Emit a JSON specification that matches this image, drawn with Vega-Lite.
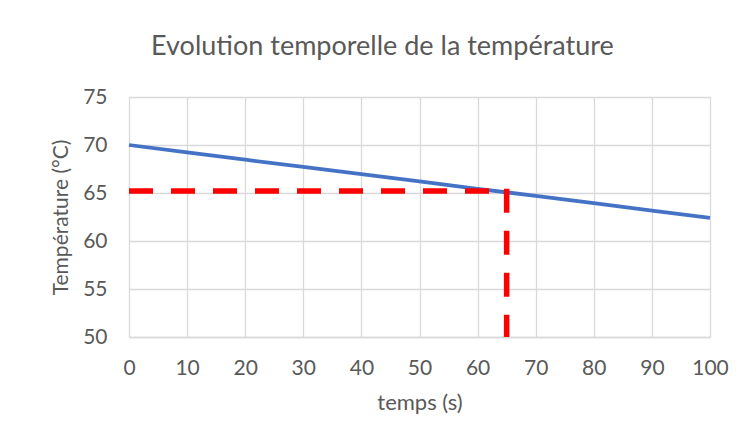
{
  "$schema": "https://vega.github.io/schema/vega-lite/v6.json",
  "width": 581,
  "height": 240,
  "autosize": {"type": "none"},
  "padding": {"left": 129, "top": 97, "right": 36, "bottom": 111},
  "background": "white",
  "config": {
    "view": {"stroke": null},
    "font": "Lato",
    "axis": {
      "labelFont": "Lato",
      "titleFont": "Lato",
      "labelColor": "#595959",
      "titleColor": "#595959",
      "labelFontSize": 21,
      "titleFontSize": 21,
      "titleFontWeight": "normal",
      "gridColor": "#d9d9d9",
      "gridWidth": 1.3,
      "tickSize": 0,
      "domainColor": "#d9d9d9",
      "domainWidth": 1.3
    }
  },
  "title": {
    "text": "Evolution temporelle de la température",
    "font": "Lato",
    "fontSize": 27,
    "fontWeight": "normal",
    "color": "#595959",
    "anchor": "middle",
    "frame": "bounds",
    "offset": 25,
    "dx": -7
  },
  "datasets": {
    "temp": [
      {"t": 0, "T": 70.0},
      {"t": 10, "T": 69.23},
      {"t": 20, "T": 68.47},
      {"t": 30, "T": 67.72},
      {"t": 40, "T": 66.96},
      {"t": 50, "T": 66.2},
      {"t": 60, "T": 65.44},
      {"t": 70, "T": 64.7},
      {"t": 80, "T": 63.95},
      {"t": 90, "T": 63.17},
      {"t": 100, "T": 62.4}
    ],
    "guides": [
      {"x": 0, "x2": 65, "y": 65.2, "y2": 65.2},
      {"x": 65, "x2": 65, "y": 65.45, "y2": 50}
    ]
  },
  "layer": [
    {
      "data": {"name": "temp"},
      "mark": {"type": "line", "color": "#4472C4", "strokeWidth": 3.75},
      "encoding": {
        "x": {
          "field": "t",
          "type": "quantitative",
          "scale": {"domain": [0, 100], "nice": false},
          "axis": {
            "values": [0, 10, 20, 30, 40, 50, 60, 70, 80, 90, 100],
            "title": "temps (s)",
            "titleFontSize": 22,
            "labelPadding": 20,
            "titlePadding": 14,
            "labelFlush": false
          }
        },
        "y": {
          "field": "T",
          "type": "quantitative",
          "scale": {"domain": [50, 75], "nice": false, "zero": false},
          "axis": {
            "values": [50, 55, 60, 65, 70, 75],
            "title": "Température (°C)",
            "labelPadding": 22,
            "titlePadding": 11,
            "domain": false
          }
        }
      }
    },
    {
      "data": {"name": "guides"},
      "mark": {"type": "rule", "color": "#FF0000", "strokeWidth": 5.5, "strokeDash": [24, 18], "strokeCap": "butt"},
      "encoding": {
        "x": {"field": "x", "type": "quantitative"},
        "x2": {"field": "x2"},
        "y": {"field": "y", "type": "quantitative"},
        "y2": {"field": "y2"}
      }
    }
  ]
}
